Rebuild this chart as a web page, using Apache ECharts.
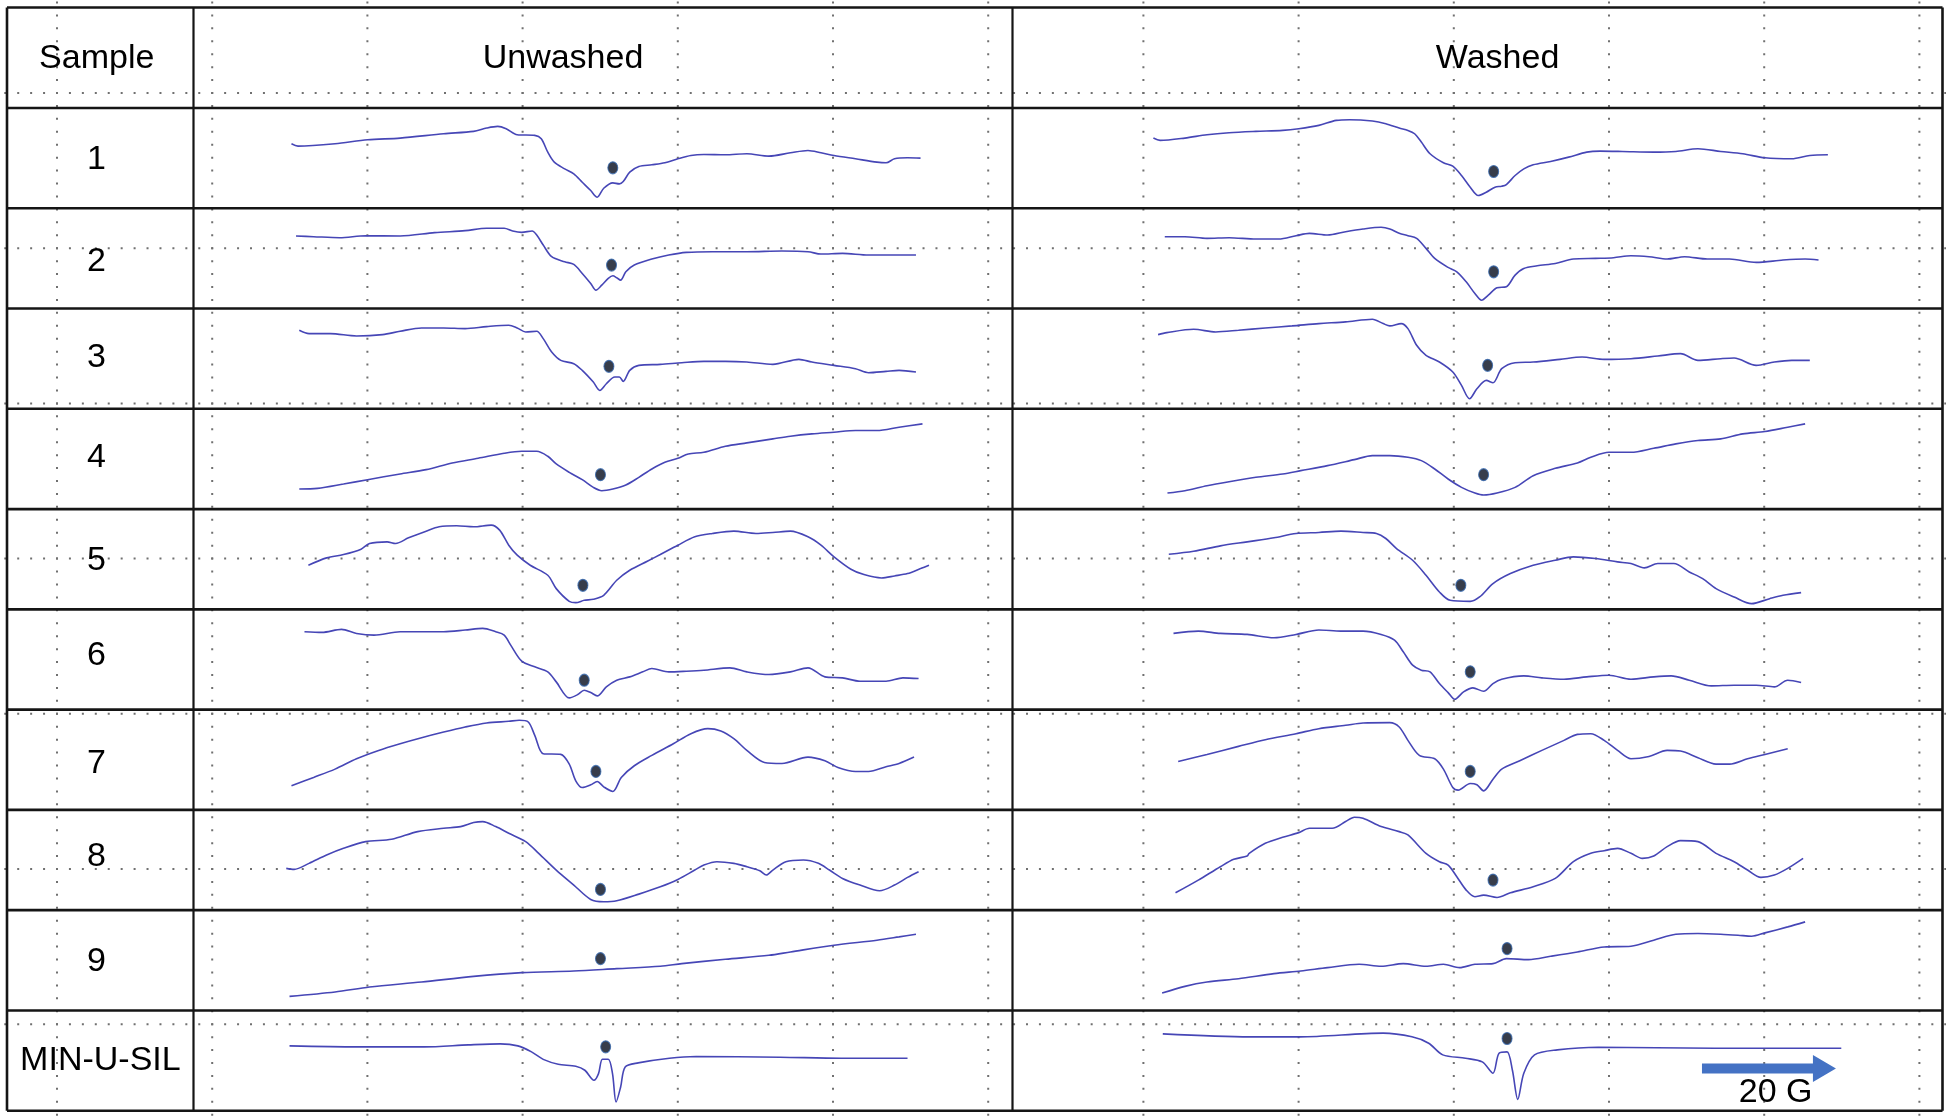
<!DOCTYPE html>
<html><head><meta charset="utf-8">
<script src="https://cdn.jsdelivr.net/npm/echarts@6/dist/echarts.min.js"></script>
<style>html,body{margin:0;padding:0;background:#fff}#c{width:1950px;height:1119px}</style>
</head><body><div id="c"></div>
<script>
// ---------- labels ----------
const sampleHeader = 'Sample';
const columnTitles = ['Unwashed', 'Washed'];
const sampleLabels = ['1', '2', '3', '4', '5', '6', '7', '8', '9', 'MIN-U-SIL'];

// ---------- spectra: [field offset (G), signal (a.u.)] ----------
const unwashed1 = [[3.3,4.3],[4.3,3.6],[10,4.3],[15,5.5],[20,6.0],[26.7,7.3],[31.3,8.0],[33.3,9.0],[35,9.5],[36.3,8.8],[38,7.0],[40.7,6.8],[41.7,5.8],[42.7,1.8],[43.7,-1.2],[45.3,-3.2],[46.7,-4.7],[48,-7.2],[49.3,-9.7],[50.3,-11.7],[51.3,-9.0],[52.7,-7.4],[53.7,-7.7],[54.3,-7.0],[55.3,-4.2],[56.7,-2.5],[58.7,-2.0],[60.7,-1.4],[62.7,-0.2],[64.7,0.8],[66.7,1.1],[70,1.0],[73.3,1.3],[76.7,0.6],[80,1.6],[82.7,2.3],[84.7,1.6],[86.7,0.8],[90,-0.2],[93.3,-1.2],[94.7,-1.4],[96,-0.2],[98,0.1],[100,0.0]];
const unwashed2 = [[4,6.7],[6.7,6.5],[10.7,6.2],[14.7,6.8],[20,6.7],[25.3,7.7],[30,8.3],[33.3,9.0],[36,9.0],[37.3,8.2],[38.7,7.8],[40.3,8.2],[41,7.0],[42,4.0],[43.3,0.5],[45.3,-1.0],[46.7,-1.8],[48,-4.5],[49.3,-7.5],[50.1,-9.5],[51,-8.0],[52,-6.0],[52.7,-5.2],[53.3,-5.8],[53.9,-6.5],[54.7,-4.0],[56,-2.0],[58.7,-0.2],[61.3,1.0],[64,1.8],[68,2.0],[73.3,2.0],[78.7,2.2],[82.7,2.0],[84.7,1.3],[88,1.5],[92,1.0],[96,1.0],[99.3,1.0]];
const unwashed3 = [[4.5,8.5],[6,7.5],[9.3,7.5],[13.3,6.8],[17.3,7.2],[20,8.2],[23.3,9.2],[26.7,9.2],[30,9.0],[33.3,9.6],[36.7,10.0],[38,9.2],[39.3,8.0],[41,8.2],[42,6.0],[43.3,2.0],[44.7,-0.5],[46.7,-1.5],[48,-3.5],[49.7,-7.0],[50.7,-9.5],[51.7,-7.5],[53,-5.5],[53.7,-5.5],[54.3,-6.8],[55.3,-3.5],[56.7,-2.0],[60,-1.7],[63.3,-1.2],[66.7,-0.8],[70,-0.8],[73.3,-1.0],[77.3,-1.7],[81.3,-0.2],[83.3,-1.0],[86.7,-2.0],[90,-3.0],[92,-4.2],[94.7,-3.8],[96.7,-3.5],[99.3,-4.0]];
const unwashed4 = [[4.5,-9.0],[7.3,-8.8],[11.3,-7.5],[15,-6.2],[20,-4.5],[24,-3.2],[28,-1.2],[32,0.2],[36,1.7],[38.7,2.3],[41,2.3],[42.7,0.8],[44,-1.5],[46,-4.0],[48,-6.2],[49.7,-8.5],[51,-9.5],[52.7,-9.0],[54.7,-7.8],[56.7,-5.5],[58.7,-3.0],[60.7,-1.0],[62.7,0.2],[64.3,1.5],[66.7,2.0],[70,3.8],[73.3,4.8],[77.3,6.0],[80,6.8],[83.3,7.5],[86.7,8.0],[90,8.5],[93.3,8.5],[96.7,9.5],[100.3,10.5]];
const unwashed5 = [[5.9,-1.8],[8.7,0.4],[11.3,1.4],[14,3.0],[15.3,4.7],[18,5.2],[19.3,4.7],[21.3,6.4],[24,8.4],[26,9.7],[28.7,10.0],[31.3,9.7],[34,10.2],[35.3,8.7],[36.7,4.2],[38,1.2],[40,-1.8],[42.7,-4.8],[44,-8.8],[46,-12.6],[47,-13.0],[48.3,-12.3],[49.7,-12.0],[51.3,-10.8],[53.3,-6.3],[55.3,-3.3],[58,-0.6],[60,1.4],[62.7,4.2],[65.3,6.7],[68,7.7],[71.3,8.4],[74.7,7.7],[77.3,8.0],[80,8.4],[82.7,6.7],[84.7,4.2],[86.7,0.7],[89.3,-3.0],[91.3,-4.6],[94,-5.6],[96,-5.0],[98,-4.3],[100,-2.8],[101.3,-1.8]];
const unwashed6 = [[5.3,8.3],[8,8.1],[11,9.0],[13.3,7.8],[16,7.3],[20,8.3],[23.3,8.3],[26.7,8.3],[30,8.8],[32.7,9.3],[34.7,8.3],[36,7.3],[37,4.3],[38.7,-0.5],[40.7,-2.2],[42.7,-3.7],[44,-6.7],[46,-11.5],[47.3,-10.5],[48.3,-9.2],[49.3,-9.9],[50.3,-10.9],[51.7,-8.2],[53.3,-6.2],[55.3,-5.2],[57.3,-3.7],[58.7,-2.7],[61.3,-3.7],[64,-3.5],[66.7,-3.2],[70.7,-2.5],[73.3,-3.7],[76.7,-4.5],[80,-3.7],[82.7,-2.5],[85.3,-5.2],[88,-5.5],[90.7,-6.5],[94.7,-6.5],[97.3,-5.5],[99.7,-5.7]];
const unwashed7 = [[3.3,-7.8],[6.7,-5.3],[10,-2.8],[13.3,0.3],[16.7,2.8],[20,4.8],[23.3,6.6],[26.7,8.3],[30,9.8],[33.3,11.0],[36.7,11.5],[38.3,11.8],[39.7,11.3],[40.7,7.3],[42,1.8],[44.7,1.6],[46,-1.3],[47,-6.3],[48,-8.3],[49.3,-7.5],[50.3,-6.5],[51.3,-8.1],[52.7,-9.5],[54,-5.3],[56,-1.8],[58.7,1.3],[62,4.8],[64.7,7.8],[67.3,9.3],[69.3,8.6],[71.3,6.3],[73.3,2.8],[76,-0.8],[78.7,-1.1],[82.7,0.8],[85.3,-0.3],[87.3,-2.3],[90,-3.5],[92,-3.5],[94.7,-2.1],[96.7,-1.1],[99,0.8]];
const unwashed8 = [[2.5,-2.5],[3.7,-2.8],[6,-1.0],[8.7,1.5],[11.3,3.5],[14.7,5.5],[18.7,6.2],[22.7,8.5],[26.7,9.5],[29.3,10.0],[31.3,11.2],[32.7,11.5],[34.7,10.0],[36.7,8.0],[39.3,5.5],[41.3,2.0],[44,-3.0],[46.7,-7.5],[49.3,-11.8],[51.3,-12.5],[53.3,-12.2],[56.7,-10.2],[60,-8.0],[62.7,-5.8],[65.3,-3.0],[66.7,-1.5],[68.7,-0.5],[71.3,-1.0],[73.3,-2.0],[75.3,-3.2],[76.3,-4.5],[77.3,-3.0],[79.3,-0.5],[82,0.0],[84.3,-1.0],[86,-3.0],[88,-5.5],[90.7,-7.5],[93.7,-9.2],[96,-7.5],[98,-5.2],[99.7,-3.5]];
const unwashed9 = [[3,-10.8],[10,-9.5],[15.3,-8.0],[23.3,-6.5],[31.3,-4.8],[38.7,-3.7],[46.7,-3.2],[53.3,-2.5],[60,-1.8],[63.3,-1.0],[70,0.3],[76.7,1.5],[80,2.5],[86.7,4.5],[93.3,6.0],[96.7,7.0],[99.3,7.8]];
const unwashedMinUSil = [[3.0,4.4],[13.4,4.1],[23.7,4.1],[30.5,4.7],[35.4,5.0],[38.1,4.4],[40.2,2.6],[42.2,0.2],[44.3,-1.1],[47,-1.7],[48.4,-2.9],[49.8,-5.9],[50.5,-3.9],[51.1,0.4],[52.0,0.4],[52.65,-3.9],[53.2,-12.4],[53.9,-7.9],[54.6,-1.9],[56.6,-0.7],[61.4,0.7],[65.5,1.2],[78.4,1.0],[87.8,0.7],[98.0,0.7]];

const washed1 = [[2,6.0],[3,5.3],[6.7,6.0],[10,7.0],[13.3,7.6],[17.3,8.0],[21.3,8.3],[23.7,8.8],[26.7,9.8],[29.3,11.3],[31.3,11.5],[34.7,11.1],[36.7,10.3],[38.7,9.0],[40,8.3],[41,7.3],[42,4.8],[43.3,1.3],[45.3,-1.4],[46.7,-2.4],[48,-5.2],[49.3,-8.7],[50.5,-11.2],[51.7,-10.2],[53,-8.7],[54,-8.4],[54.7,-7.9],[56,-5.2],[57.3,-3.2],[58.7,-2.0],[61.3,-1.0],[64,0.3],[66.7,1.8],[68.7,2.1],[72,2.0],[76.7,1.8],[80,2.0],[83.3,2.8],[86.7,2.0],[90,1.3],[93.3,0.1],[97.3,-0.2],[100,0.8],[102.7,1.0]];
const washed2 = [[3.7,6.5],[6.7,6.5],[10,6.0],[13.3,6.2],[17.3,5.8],[20.7,5.8],[23.3,6.8],[25.3,7.5],[28,7.0],[30.7,8.0],[33.3,8.8],[36,9.3],[37.3,8.8],[38.7,7.5],[40,6.8],[41.3,6.0],[42.7,3.0],[44,0.0],[46,-2.7],[47.3,-4.0],[48.7,-7.0],[50,-10.5],[51,-12.5],[52,-11.0],[53.3,-8.8],[54.7,-8.5],[56,-5.0],[57.3,-3.0],[59.3,-2.2],[62,-1.5],[64.7,-0.2],[68,0.0],[70.7,0.2],[73.3,0.8],[76,0.5],[78.7,-0.2],[81.3,0.5],[84.7,-0.2],[88,-0.2],[92,-1.2],[96,-0.5],[99.3,-0.2],[101.3,-0.5]];
const washed3 = [[2.7,7.2],[4,7.8],[8,8.8],[11.3,8.0],[14.7,8.5],[18.7,9.2],[22.7,9.8],[26.7,10.5],[30.7,11.0],[34.7,11.8],[36.3,10.5],[37.3,9.8],[39,10.5],[40,9.0],[41.3,4.0],[42.7,1.0],[44.7,-1.0],[46.7,-4.0],[48,-8.0],[49.2,-12.0],[50.3,-9.0],[51.7,-6.5],[52.7,-7.2],[54,-3.0],[56,-1.2],[58.7,-1.0],[62.7,-0.2],[66,0.5],[69.3,-0.2],[73.3,0.0],[77.3,0.8],[80.7,1.5],[83.3,-0.5],[86.7,0.0],[88.7,0.2],[92,-2.0],[94.7,-1.0],[97.3,-0.5],[100,-0.5]];
const washed4 = [[4.1,-10.2],[6.7,-9.5],[10,-8.0],[13.3,-6.8],[17.3,-5.5],[21.3,-4.5],[24,-3.5],[28,-2.0],[32,-0.2],[34.7,1.0],[37.3,1.0],[40,0.5],[42,-0.5],[44,-3.0],[46,-6.0],[48,-8.5],[50,-10.2],[51.3,-10.8],[53.3,-10.2],[56,-8.5],[58.7,-5.0],[62,-2.8],[65.3,-1.2],[67.3,0.5],[70,2.0],[73.3,2.0],[76.7,3.2],[80,4.5],[83.3,5.5],[86.7,6.0],[90,7.5],[93.3,8.2],[96.7,9.5],[99.3,10.5]];
const washed5 = [[4.3,1.5],[8,2.4],[12,4.0],[16,5.2],[20,6.4],[23.3,7.7],[26.7,8.0],[30,8.4],[33.3,8.0],[35.3,7.7],[36.7,6.2],[38.3,3.2],[40.7,-0.3],[42.7,-4.8],[44.7,-9.8],[46.3,-12.3],[49.3,-12.6],[50.7,-11.3],[52.7,-7.3],[55.3,-4.3],[58.7,-1.8],[62,-0.3],[64.7,0.7],[68,0.2],[71.3,-0.8],[73.3,-1.3],[75.3,-2.6],[77.3,-1.3],[79.7,-1.3],[82,-3.8],[84,-5.8],[86,-8.8],[88.7,-11.3],[91.3,-13.3],[94,-11.8],[96,-10.8],[98.7,-10.0]];
const washed6 = [[5,7.8],[8.7,8.5],[12,7.8],[16,7.5],[20,6.5],[23.3,7.5],[26.7,8.8],[30,8.5],[33.3,8.5],[36,7.5],[38,5.8],[39.3,2.3],[40.7,-1.7],[42,-3.2],[43.3,-3.7],[44.7,-7.2],[46,-9.9],[47,-11.9],[48.3,-9.7],[49.7,-8.5],[51.3,-9.5],[52.7,-7.2],[54,-5.9],[57.3,-4.9],[60,-5.5],[63.3,-5.9],[66.7,-5.2],[70,-4.7],[73.3,-5.9],[76.7,-5.2],[79.3,-4.9],[82,-6.2],[85.3,-7.9],[88.7,-7.7],[92,-7.7],[94.7,-8.2],[96.7,-6.2],[98.7,-6.9]];
const washed7 = [[5.7,-0.5],[10,1.6],[14.7,4.0],[18.7,6.0],[23.3,7.8],[26.7,9.3],[30.7,10.3],[33.3,11.0],[37.3,11.1],[38.7,9.8],[40,5.8],[41.7,1.3],[44,0.3],[45.3,-2.8],[46.7,-8.3],[47.5,-9.1],[49.3,-7.1],[50.3,-7.5],[51.3,-9.3],[52.7,-5.8],[54,-2.8],[56.7,-0.3],[60,2.8],[63.3,5.8],[65.3,7.6],[67.3,7.8],[69.3,5.8],[71.3,2.8],[73.3,0.3],[76,1.0],[78.7,2.8],[80.7,2.6],[83.3,0.6],[86,-1.3],[88,-1.3],[90.7,0.3],[93.3,1.6],[96.7,3.3]];
const washed8 = [[5.3,-9.8],[8.7,-6.0],[12,-2.0],[14,0.2],[16,1.2],[16.3,2.0],[18.7,5.0],[21.3,6.8],[23.7,8.2],[25.3,9.5],[28.7,9.5],[30.7,11.5],[32,12.8],[33.3,12.5],[36,10.0],[38.7,8.5],[40,7.5],[42.7,2.0],[44.7,-0.5],[46,-1.5],[47.3,-5.0],[48.7,-9.0],[50,-11.0],[51.3,-10.5],[53.3,-11.2],[55.3,-9.8],[58.7,-8.0],[62,-5.5],[64.7,-0.5],[67.3,2.0],[69.3,2.8],[71.3,3.5],[73.3,2.0],[75,0.5],[76.7,1.2],[78.7,4.0],[80.7,5.8],[83.3,5.5],[86,2.0],[88.7,-0.5],[90.7,-3.0],[92.7,-5.2],[94.7,-4.5],[96.7,-2.5],[99,0.5]];
const washed9 = [[3.3,-9.8],[6.7,-7.8],[10,-6.5],[14.7,-5.5],[20,-4.0],[24,-3.2],[28,-2.2],[32.7,-1.2],[36,-1.8],[39.3,-1.0],[42.7,-1.8],[45.3,-1.2],[47.7,-2.2],[50,-1.2],[52.7,-1.0],[54.7,0.5],[58,0.2],[61.3,1.2],[65.3,2.5],[69.3,4.0],[73.3,4.2],[76.7,6.0],[80,7.8],[83.3,8.0],[86.7,7.8],[89.3,7.5],[91.3,7.2],[93.3,8.2],[96.7,10.0],[99.3,11.5]];
const washedMinUSil = [[3.4,8.0],[16.4,7.1],[23.9,7.1],[36.3,8.2],[40.6,7.1],[43.1,5.2],[45.2,1.7],[48.6,0.7],[51.1,-0.4],[52.7,-3.8],[53.6,2.2],[54.8,2.6],[55.6,-2.9],[56.4,-11.6],[57.3,-3.8],[58.9,1.7],[62.3,3.2],[68.4,4.0],[85.8,3.7],[104.7,3.7]];

// marker dots (field G, signal a.u.), one per sample
const unwashedDots = [[52.7,-2.9],[52.5,-2.0],[52.1,-2.3],[50.8,-4.7],[48.1,-7.8],[48.3,-6.2],[50.1,-3.5],[50.8,-8.8],[50.8,0.5],[51.6,4.1]];
const washedDots = [[52.8,-4.0],[52.8,-4.0],[51.9,-2.0],[51.3,-4.7],[47.9,-7.8],[49.3,-3.7],[49.3,-3.5],[52.7,-6.0],[54.8,3.5],[54.8,6.6]];

// scale bar
const scaleBarLengthG = 20;
const scaleBarStartG = 83.9;
const scaleBarLevel = -2.34;
const scaleBarLabel = '20 G';

const unwashedSpectra = [unwashed1, unwashed2, unwashed3, unwashed4, unwashed5, unwashed6, unwashed7, unwashed8, unwashed9, unwashedMinUSil];
const washedSpectra = [washed1, washed2, washed3, washed4, washed5, washed6, washed7, washed8, washed9, washedMinUSil];

// ---------- layout ----------
const FONT = '"Liberation Sans", Arial, sans-serif';
const tableL = 7, tableT = 7.5, tableR = 1942.5, tableB = 1110.7;
const headerB = 108, rowH = 100.27;
const sampleDiv = 193.5, colDiv = 1012.5;
const colGrid = [{left: 270, width: 680, max: 104.53}, {left: 1140, width: 710, max: 106}];
const lineColor = '#4646b6';
const labelY = [160, 262, 358, 457.7, 561, 655.4, 763.6, 857, 961.5, 1060.7];

const grids = [], xAxes = [], yAxes = [], series = [];
let gi = 0;
for (let c = 0; c < 2; c++) {
  const spectra = c === 0 ? unwashedSpectra : washedSpectra;
  const dots = c === 0 ? unwashedDots : washedDots;
  for (let r = 0; r < 10; r++) {
    grids.push({left: colGrid[c].left, width: colGrid[c].width, top: headerB + r * rowH, height: rowH, containLabel: false, show: false});
    xAxes.push({type: 'value', gridIndex: gi, min: 0, max: colGrid[c].max, show: false});
    yAxes.push({type: 'value', gridIndex: gi, min: -15, max: 15, show: false});
    series.push({type: 'line', xAxisIndex: gi, yAxisIndex: gi, data: spectra[r], showSymbol: false, smooth: 0.3, silent: true,
      lineStyle: {color: lineColor, width: 1.6}, z: 3});
    series.push({type: 'scatter', xAxisIndex: gi, yAxisIndex: gi, data: [dots[r]], symbol: 'circle', symbolSize: [10, 12], silent: true,
      itemStyle: {color: '#050c1e', borderColor: '#3567ad', borderWidth: 1.1}, z: 4});
    if (c === 1 && r === 9) {
      series.push({type: 'custom', xAxisIndex: gi, yAxisIndex: gi, silent: true, z: 5,
        data: [[scaleBarStartG, scaleBarLevel, scaleBarStartG + scaleBarLengthG]],
        renderItem: function (params, api) {
          const s = api.coord([api.value(0), api.value(1)]);
          const e = api.coord([api.value(2), api.value(1)]);
          const bh = 10, hl = 23, hh = 27, bx = e[0] - hl;
          const mid = api.coord([api.value(0) + 11, api.value(1)]);
          return {type: 'group', children: [
            {type: 'polygon', shape: {points: [[s[0], s[1] - bh / 2], [bx, s[1] - bh / 2], [bx, s[1] - hh / 2], [e[0], s[1]], [bx, s[1] + hh / 2], [bx, s[1] + bh / 2], [s[0], s[1] + bh / 2]]},
              style: {fill: '#4472c4'}},
            {type: 'text', style: {text: scaleBarLabel, x: mid[0], y: s[1] + 24, font: '34px ' + FONT, fill: '#000', align: 'center', verticalAlign: 'middle'}}
          ]};
        }});
    }
    gi++;
  }
}

// ---------- graphic: dotted background grid, table, text ----------
const graphic = [];
const dotColor = '#707070';
const step = 155.2, period = step / 12;
for (let k = 0; k < 13; k++) {
  const x = 57 + k * step;
  graphic.push({type: 'line', silent: true, z: 0, shape: {x1: x, y1: 93 - 7 * period - 1, x2: x, y2: 1119},
    style: {stroke: dotColor, lineWidth: 2, lineDash: [2, period - 2]}});
}
for (let k = 0; k < 7; k++) {
  const y = 93 + k * step;
  graphic.push({type: 'line', silent: true, z: 0, shape: {x1: 57 - 4 * period - 1, y1: y, x2: 1946, y2: y},
    style: {stroke: dotColor, lineWidth: 2, lineDash: [2, period - 2]}});
}
const tableStroke = '#151515';
function hline(y, w) { graphic.push({type: 'line', silent: true, z: 10, shape: {x1: tableL, y1: y, x2: tableR, y2: y}, style: {stroke: tableStroke, lineWidth: w}}); }
function vline(x, w) { graphic.push({type: 'line', silent: true, z: 10, shape: {x1: x, y1: tableT, x2: x, y2: tableB}, style: {stroke: tableStroke, lineWidth: w}}); }
hline(tableT, 2.6); hline(tableB, 2.6);
for (let r = 0; r < 10; r++) hline(headerB + r * rowH, 2.6);
vline(tableL, 2.6); vline(tableR, 2.6); vline(sampleDiv, 2.2); vline(colDiv, 2.2);

function txt(s, x, y) {
  graphic.push({type: 'text', silent: true, z: 11, x: x, y: y,
    style: {text: s, font: '34px ' + FONT, fill: '#000', align: 'center', verticalAlign: 'middle'}});
}
txt(sampleHeader, 96.7, 58.5);
txt(columnTitles[0], 563, 58.5);
txt(columnTitles[1], 1497.6, 58.5);
sampleLabels.forEach((s, i) => txt(s, i === 9 ? 100.4 : 96.5, labelY[i]));

const chart = echarts.init(document.getElementById('c'), null, {renderer: 'canvas'});
chart.setOption({
  animation: false,
  backgroundColor: '#ffffff',
  grid: grids, xAxis: xAxes, yAxis: yAxes, series: series, graphic: graphic
});
</script></body></html>
